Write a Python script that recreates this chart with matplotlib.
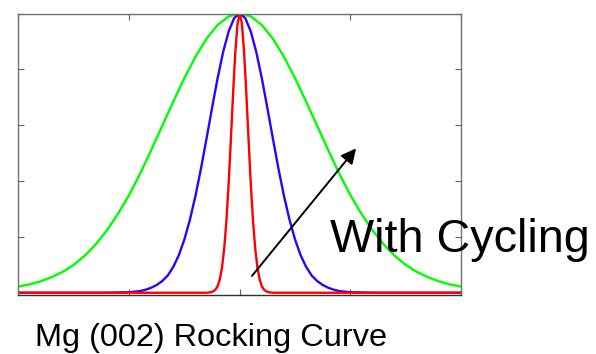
import numpy as np
import matplotlib.pyplot as plt

# half-profiles (offset from peak, normalised intensity), mirrored about zero
green_x = [0.0, 0.1, 0.2, 0.3, 0.4, 0.5, 0.6, 0.7, 0.8, 0.9, 1.0,
           1.1, 1.2, 1.3, 1.4, 1.5, 1.6, 1.7, 1.8, 1.9, 2.0]
green_y = [1.0, 0.990, 0.959, 0.910, 0.845, 0.769, 0.685, 0.598, 0.511, 0.427, 0.350,
           0.283, 0.224, 0.174, 0.133, 0.100, 0.075, 0.056, 0.041, 0.030, 0.022]

blue_x = [0.0, 0.05, 0.10, 0.15, 0.20, 0.25, 0.30, 0.35, 0.40, 0.45, 0.50,
          0.55, 0.60, 0.65, 0.70, 0.75, 0.80, 0.85, 0.90, 1.0, 1.2, 2.0]
blue_y = [1.0, 0.984, 0.936, 0.862, 0.768, 0.662, 0.552, 0.445, 0.347, 0.262, 0.191,
          0.135, 0.093, 0.062, 0.042, 0.028, 0.018, 0.011, 0.006, 0.002, 0.0, 0.0]

red_x = [0.0, 0.02, 0.04, 0.06, 0.08, 0.10, 0.12, 0.14, 0.16, 0.18, 0.20,
         0.22, 0.24, 0.26, 0.30, 2.0]
red_y = [1.0, 0.963, 0.860, 0.713, 0.549, 0.391, 0.259, 0.159, 0.091, 0.048, 0.023,
         0.011, 0.005, 0.002, 0.0, 0.0]


def mirror(x, y):
    x = np.asarray(x)
    y = np.asarray(y)
    return np.concatenate([-x[::-1], x[1:]]), np.concatenate([y[::-1], y[1:]])


fig = plt.figure(figsize=(5.96, 3.54), dpi=100)
ax = fig.add_axes([0.031, 0.1667, 0.7424, 0.795])

for (hx, hy), col in [((green_x, green_y), '#00ff00'),
                      ((blue_x, blue_y), '#3300ff'),
                      ((red_x, red_y), '#ff0000')]:
    xs, ys = mirror(hx, hy)
    ax.plot(xs, ys, color=col, lw=1.7)

ax.set_xlim(-2, 2)
ax.set_ylim(-0.008, 1.0)
ax.set_xticks([-2, -1, 0, 1, 2])
ax.set_yticks([0, 0.2, 0.4, 0.6, 0.8, 1.0])
ax.tick_params(direction='in', length=4, width=0.8, color='#606060',
               top=True, right=True, labelbottom=False, labelleft=False)
for s in ax.spines.values():
    s.set_color('#707070')
    s.set_linewidth(1.0)
ax.spines['bottom'].set_color('#303030')

ax.annotate('', xy=(1.052, 0.517), xytext=(0.11, 0.06),
            arrowprops=dict(arrowstyle='-|>,head_length=0.9,head_width=0.45',
                            color='black', lw=1.4, shrinkA=0, shrinkB=0))

fig.text(0.5537, 0.289, 'With Cycling', fontsize=33.7, family='Liberation Sans',
         va='baseline', ha='left')
fig.text(0.0587, 0.0226, 'Mg (002) Rocking Curve', fontsize=23.4,
         family='Liberation Sans', va='baseline', ha='left')

fig.savefig('out.png', dpi=100)
